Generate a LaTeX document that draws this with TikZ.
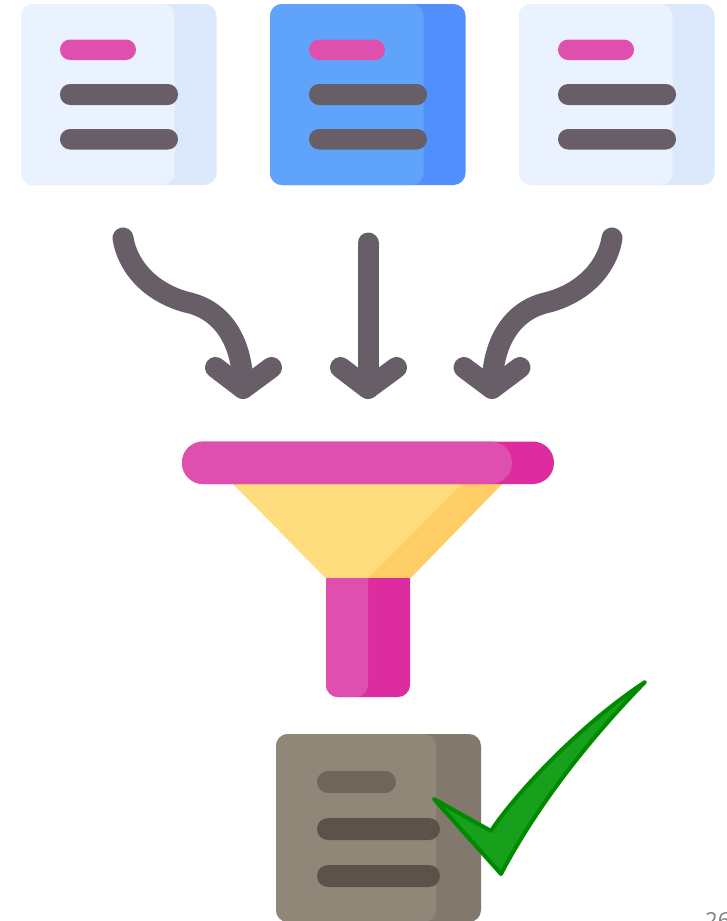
\documentclass[tikz,border=0pt]{standalone}
\usepackage{fontspec}
\setmainfont{Open Sans}
\definecolor{paperL}{HTML}{EAF2FF}
\definecolor{paperD}{HTML}{DCE8FB}
\definecolor{blueL}{HTML}{60A3FB}
\definecolor{blueD}{HTML}{5190FC}
\definecolor{pinkL}{HTML}{DF4FAE}
\definecolor{pinkD}{HTML}{DC2CA0}
\definecolor{slate}{HTML}{685E68}
\definecolor{yelL}{HTML}{FEDD7E}
\definecolor{yelD}{HTML}{FECD65}
\definecolor{brownL}{HTML}{918779}
\definecolor{brownD}{HTML}{82786C}
\definecolor{barL}{HTML}{6E655B}
\definecolor{barD}{HTML}{5C5249}
\definecolor{tickF}{HTML}{16A01C}
\definecolor{tickS}{HTML}{008A00}
\tikzset{
  arrowline/.style={draw=slate,line width=21pt,line cap=round,line join=round},
}
% #1 x offset, #2 back colour, #3 front colour
\newcommand{\docicon}[3]{
  \begin{scope}[xshift=#1pt]
    \fill[#2,rounded corners=12pt] (21,4) rectangle (216.5,185);
    \fill[#3,rounded corners=12pt] (21,4) rectangle (174.5,185);
    \fill[pinkL,rounded corners=10.2pt] (60,39.5) rectangle (136,60);
    \fill[slate,rounded corners=10.2pt] (60,84) rectangle (178,105);
    \fill[slate,rounded corners=10.2pt] (60,129) rectangle (178,149.5);
  \end{scope}
}
\begin{document}
\begin{tikzpicture}[x=1pt,y=-1pt]
\useasboundingbox (0,0) rectangle (726,921);
\clip (0,0) rectangle (726,921);
\fill[white] (0,0) rectangle (726,921);
\docicon{0}{paperD}{paperL}
\docicon{249}{blueD}{blueL}
\docicon{498}{paperD}{paperL}
% arrows
\draw[arrowline] (123,238) .. controls (128,270) and (155,295) .. (190,303) .. controls (225,312) and (243,345) .. (243,388);
\draw[arrowline] (215.5,367.5) -- (243,388.5) -- (271.5,367.5);
\draw[arrowline] (368,243) -- (368,388);
\draw[arrowline] (340.5,367.5) -- (368,388.5) -- (396.5,367.5);
\draw[arrowline] (612,238) .. controls (607,270) and (580,295) .. (545,303) .. controls (510,312) and (492,345) .. (492,388);
\draw[arrowline] (464,367.5) -- (492,388.5) -- (520,367.5);
% funnel
\fill[yelL] (232,483) -- (503,483) -- (410,578.5) -- (326,578.5) -- cycle;
\fill[yelD] (463,483) -- (503,483) -- (410,578.5) -- (368,578.5) -- cycle;
\fill[pinkD,rounded corners=21.2pt] (182,441.5) rectangle (554,484);
\fill[pinkL,rounded corners=21.2pt] (182,441.5) rectangle (512,484);
\fill[pinkD,rounded corners=12pt] (326,578) [sharp corners] -- (410,578) [rounded corners=12pt] -- (410,697) -- (326,697) [sharp corners] -- (326,578) -- cycle;
\fill[pinkL,rounded corners=12pt] (326,578) [sharp corners] -- (368,578) [rounded corners=12pt] -- (368,697) -- (326,697) [sharp corners] -- (326,578) -- cycle;
% result document
\fill[brownD,rounded corners=12pt] (276,734) rectangle (481,922);
\fill[brownL,rounded corners=12pt] (276,734) rectangle (436,922);
\fill[barL,rounded corners=11pt] (317,771) rectangle (396,793);
\fill[barD,rounded corners=11pt] (317,818) rectangle (440,840);
\fill[barD,rounded corners=11pt] (317,865) rectangle (440,887);
% check mark
\draw[fill=tickF,draw=tickS,line width=4pt,line join=round]
  (434,799) -- (491,831) .. controls (512,798) and (578,726) .. (645,682)
  .. controls (600,728) and (542,796) .. (501,874) -- cycle;
% cropped page number
\node (pagenum) [anchor=north west,inner sep=0pt,text=gray,font=\fontsize{22pt}{22pt}\selectfont] at (705,912) {26};
\end{tikzpicture}
\end{document}
